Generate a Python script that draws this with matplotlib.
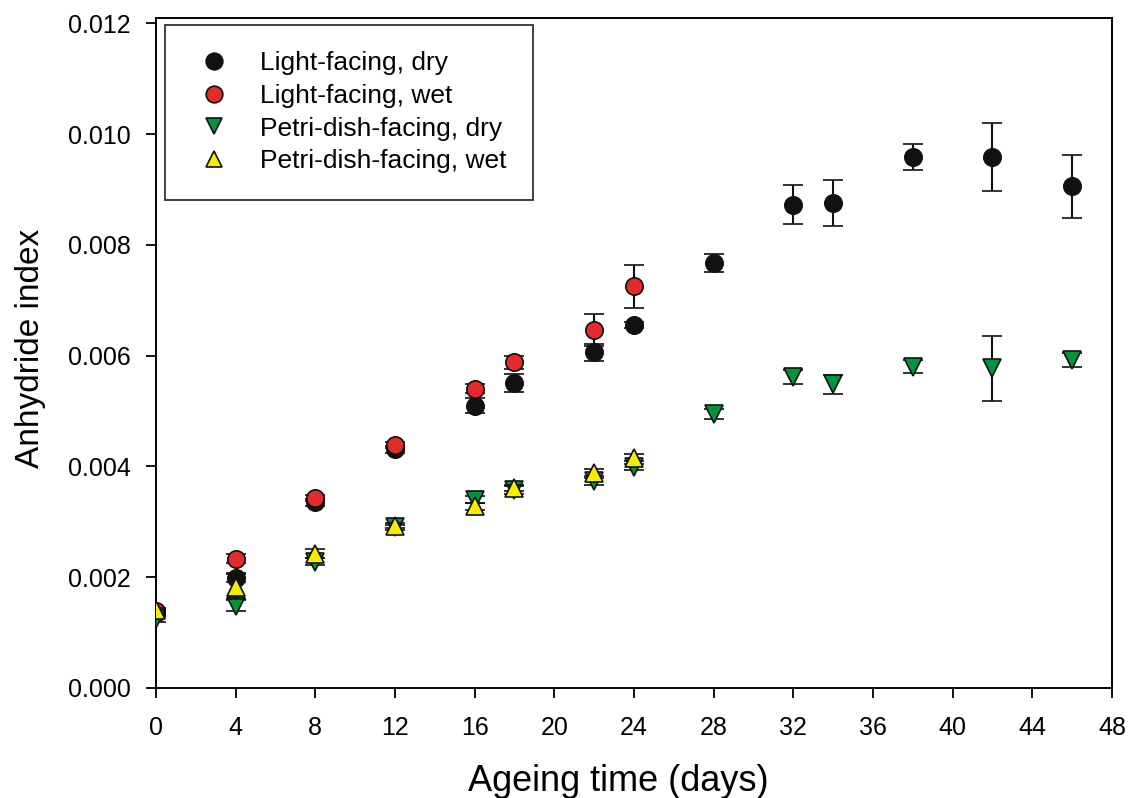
import matplotlib
matplotlib.use("Agg")
import matplotlib.pyplot as plt

plt.rcParams["font.family"] = ["Liberation Sans", "DejaVu Sans"]

# ageing time (days)
days_light_dry = [0, 4, 8, 12, 16, 18, 22, 24, 28, 32, 34, 38, 42, 46]
light_dry = [0.00135, 0.00199, 0.00335, 0.00431, 0.00510, 0.00551, 0.00606, 0.00655,
             0.00768, 0.00873, 0.00876, 0.00959, 0.00959, 0.00906]
light_dry_err = [0.00007, 0.00008, 0.00006, 0.00006, 0.00014, 0.00016, 0.00015, 0.00005,
                 0.00016, 0.00035, 0.00042, 0.00023, 0.00062, 0.00057]

days_light_wet = [0, 4, 8, 12, 16, 18, 22, 24]
light_wet = [0.00138, 0.00233, 0.00343, 0.00439, 0.00540, 0.00588, 0.00647, 0.00725]
light_wet_err = [0.00005, 0.00008, 0.00006, 0.00005, 0.00008, 0.00012, 0.00029, 0.00039]

days_petri_dry = [0, 4, 8, 12, 16, 18, 22, 24, 28, 32, 34, 38, 42, 46]
petri_dry = [0.00125, 0.00148, 0.00228, 0.00290, 0.00340, 0.00357, 0.00373, 0.00399,
             0.00494, 0.00561, 0.00548, 0.00580, 0.00577, 0.00592]
petri_dry_err = [0.00006, 0.00010, 0.00006, 0.00005, 0.00006, 0.00007, 0.00006, 0.00006,
                 0.00009, 0.00013, 0.00017, 0.00012, 0.00059, 0.00013]

days_petri_wet = [0, 4, 8, 12, 16, 18, 22, 24]
petri_wet = [0.00140, 0.00183, 0.00242, 0.00293, 0.00328, 0.00361, 0.00389, 0.00416]
petri_wet_err = [0.00005, 0.00022, 0.00008, 0.00005, 0.00006, 0.00006, 0.00006, 0.00007]

fig = plt.figure(figsize=(11.3, 7.98), dpi=100)
ax = fig.add_axes([0.138, 0.138, 0.846, 0.8395])

series = [
    (days_light_dry, light_dry, light_dry_err, "o", "#111111", "Light-facing, dry"),
    (days_light_wet, light_wet, light_wet_err, "o", "#e32b2b", "Light-facing, wet"),
    (days_petri_dry, petri_dry, petri_dry_err, "v", "#00943c", "Petri-dish-facing, dry"),
    (days_petri_wet, petri_wet, petri_wet_err, "^", "#f7ec00", "Petri-dish-facing, wet"),
]

handles = []
for i, (x, y, err, marker, color, label) in enumerate(series):
    eb = ax.errorbar(x, y, yerr=err, fmt=marker, ms=12.5, mfc=color, mec="#111111",
                     mew=1.2, ecolor="#111111", elinewidth=1.5, capsize=7.5,
                     capthick=1.5, label=label, zorder=3 + i)
    handles.append(eb[0])

yticks = [0, 0.002, 0.004, 0.006, 0.008, 0.010, 0.012]
ax.set_xlim(0, 48)
ax.set_ylim(0, 0.0121)
ax.set_xticks(range(0, 49, 4))
ax.set_yticks(yticks)
ax.set_yticklabels([f"{v:.3f}" for v in yticks])
ax.tick_params(direction="out", length=7, width=1.3, labelsize=18)
ax.tick_params(axis="x", pad=13)
ax.tick_params(axis="y", pad=11)
for sp in ax.spines.values():
    sp.set_linewidth(1.4)

ax.set_xlabel("Ageing time (days)", fontsize=26)
ax.set_ylabel("Anhydride index", fontsize=24)
ax.xaxis.set_label_coords(0.484, -0.113)
ax.yaxis.set_label_coords(-0.115, 0.507)

leg = ax.legend(handles=handles, labels=[s[5] for s in series], loc="upper left",
                bbox_to_anchor=(0.0094, 0.9896), borderaxespad=0, fontsize=19,
                frameon=True, fancybox=False, edgecolor="#111111", labelspacing=0.33,
                handletextpad=0.89, borderpad=1.0, handlelength=1.71)
leg.get_frame().set_linewidth(1.4)
for h in leg.legend_handles:
    h.set_markersize(12)

fig.savefig("out.png", dpi=100)
